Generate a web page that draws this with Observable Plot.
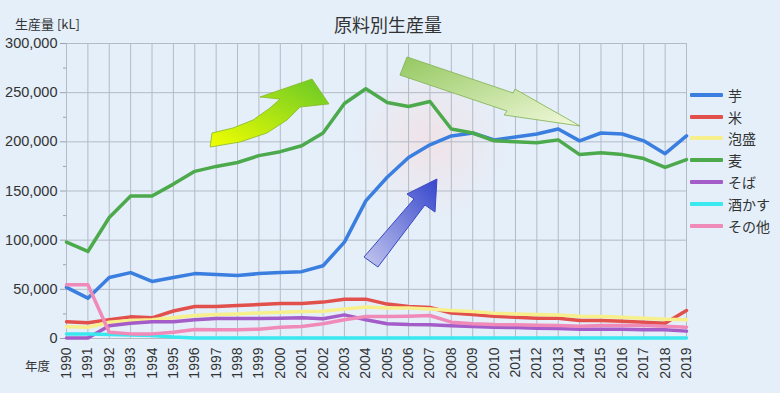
<!DOCTYPE html>
<html><head><meta charset="utf-8">
<script src="https://cdn.jsdelivr.net/npm/d3@7"></script>
<script src="https://cdn.jsdelivr.net/npm/@observablehq/plot@0.6"></script>
<style>
html,body{margin:0;padding:0;background:#e4effa;}
#wrap{position:relative;width:780px;height:393px;background:#e4effa;font-family:"Liberation Sans","Noto Sans CJK JP",sans-serif;color:#333;overflow:hidden}
#chart{position:absolute;left:0;top:0;}
#title{position:absolute;left:0;width:776px;top:11px;text-align:center;font-size:18px;font-family:"Noto Sans CJK JP",sans-serif;color:#333;}
#ylab{position:absolute;left:15px;top:14px;font-size:13px;font-family:"Noto Sans CJK JP",sans-serif;color:#333;}
#xlab{position:absolute;left:25px;top:356px;font-size:12.5px;font-family:"Noto Sans CJK JP",sans-serif;color:#333;}
#legend{position:absolute;left:690px;top:84px;}
.item{display:flex;align-items:center;height:21.8px;font-size:14px;font-family:"Noto Sans CJK JP",sans-serif;color:#333;}
.sw{width:33px;height:4px;margin-right:5px;border-radius:1px;}
</style>
</head><body>
<div id="wrap">
  <div id="chart"></div>
  <div id="title">原料別生産量</div>
  <div id="ylab">生産量 [kL]</div>
  <div id="xlab">年度</div>
  <div id="legend"></div>
</div>
<script>
// ---- data (kL, thousands) ----
const years = [1990,1991,1992,1993,1994,1995,1996,1997,1998,1999,2000,2001,2002,2003,2004,2005,2006,2007,2008,2009,2010,2011,2012,2013,2014,2015,2016,2017,2018,2019];
const names = ["芋","米","泡盛","麦","そば","酒かす","その他"];
const colors = ["#3a7ee0","#e2504c","#f7ef8c","#4caa4c","#a45cc8","#3ae8f0","#f08ab8"];
const imo      = [52,41,62,67,58,62,66,65,64,66,67,68,74,98,140,164,184,197,206,209,202,205,208,213,201,209,208,201,188,206];
const kome     = [17,16,19,22,21,28,32.5,32.5,33.5,34.5,35.5,35.5,37,40,40,35,32.5,31.5,26,24.5,22.5,21.7,20.7,20.7,18.3,18.3,17.6,16.6,15.6,28.5];
const awamori  = [12,11.5,16.6,18.3,19,21,23.4,24.4,25,26,26.8,27.5,27.8,30,32,31,30.9,30,28.5,27.5,25.8,25,24.4,24,22.7,22.4,21.7,20.7,19.7,19];
const mugi     = [98,88.5,123,145,145,157,170,175,179,186,190,196,209,239,254,240,236,241,213,209,201,200,199,202,187,189,187,183,174,182];
const soba     = [0.5,0.5,13,15.6,17,17,19,20.3,20.3,20.3,20.7,21,20,24,19,15,14.2,13.9,12.9,12.2,11.5,11.2,10.5,10.2,9.5,9.5,9.5,9,8.8,7.5];
const sakekasu = [4.5,4.5,4,3.5,3,1.5,0.5,0.5,0.5,0.5,0.5,0.5,0.5,0.5,0.5,0.5,0.5,0.5,0.5,0.5,0.5,0.5,0.5,0.5,0.5,0.5,0.5,0.5,0.5,0.5];
const sonota   = [54.6,54.6,6.4,4.7,4.7,6.4,9.2,9,9,9.5,11.5,12.2,15,19,22.4,22.4,22.7,23.4,16.6,15,14.2,13.9,13.6,13.2,12.5,13.2,13.2,13.2,12.5,11.5];
const yTicks = [0,50000,100000,150000,200000,250000,300000];
const yMinor = [25000,75000,125000,175000,225000,275000];

// decorative arrows, in data coordinates [year, kL]
const arrowRise = [[1996.83,208500],[1997.81,213600],[1998.75,221700],[1999.54,233900],[2000.01,243000],[1999.07,245100],[2001.51,263400],[2002.30,238000],[2000.95,234900],[2000.34,221700],[1999.40,208500],[1998.14,199300],[1996.74,194200]];
const arrowFall = [[2005.95,285800],[2010.91,249200],[2011.00,253200],[2014.04,215600],[2010.49,226800],[2010.63,230800],[2005.62,267400]];
const arrowImo  = [[2003.94,82400],[2006.28,141400],[2005.95,146400],[2007.35,161700],[2007.26,128100],[2006.79,135300],[2004.59,72200]];
const glow = {year: 2007, value: 200000, span: 3.8};

const series = [imo,kome,awamori,mugi,soba,sakekasu,sonota];
const table = [];
series.forEach((vals, k) => vals.forEach((v, i) => table.push({year: years[i], value: v * 1000, name: names[k]})));

function decoMark(layer) {
  return (index, scales, values, dims) => {
    const {x, y} = scales;
    const g = d3.create("svg:g");
    const defs = g.append("defs");
    if (layer === "glow") {
      const rg = defs.append("radialGradient").attr("id", "glowg");
      rg.append("stop").attr("offset", "0%").attr("stop-color", "#ffd4d0").attr("stop-opacity", 0.45);
      rg.append("stop").attr("offset", "100%").attr("stop-color", "#ffd4d0").attr("stop-opacity", 0);
      const r = x(glow.year + glow.span) - x(glow.year);
      g.append("circle").attr("cx", x(glow.year)).attr("cy", y(glow.value)).attr("r", r).attr("fill", "url(#glowg)");
      return g.node();
    }
    const mk = (id, x1, y1, x2, y2, c1, c2) => {
      const lg = defs.append("linearGradient").attr("id", id).attr("x1", x1).attr("y1", y1).attr("x2", x2).attr("y2", y2);
      lg.append("stop").attr("offset", "0%").attr("stop-color", c1);
      lg.append("stop").attr("offset", "100%").attr("stop-color", c2);
    };
    mk("gRise", 0, 1, 1, 0, "#f2ff00", "#66c828");
    mk("gFall", 0, 0, 1, 1, "#94c860", "#f2f9dc");
    mk("gImo", 1, 0, 0, 1, "#3646cc", "#c4c8ee");
    const poly = pts => pts.map(p => [x(p[0]), y(p[1])].join(",")).join(" ");
    g.append("polygon").attr("points", poly(arrowRise)).attr("fill", "url(#gRise)").attr("stroke", "#86b828").attr("stroke-width", 0.8);
    g.append("polygon").attr("points", poly(arrowFall)).attr("fill", "url(#gFall)").attr("stroke", "#7fb04c").attr("stroke-width", 0.8);
    g.append("polygon").attr("points", poly(arrowImo)).attr("fill", "url(#gImo)").attr("stroke", "#3a48c4").attr("stroke-width", 1);
    return g.node();
  };
}

const gridColor = "#b3bbc5";
const chart = Plot.plot({
  width: 780, height: 393,
  marginLeft: 66, marginRight: 94, marginTop: 43, marginBottom: 55,
  style: {background: "transparent", fontFamily: "'Liberation Sans','Noto Sans CJK JP',sans-serif", fontSize: "14.5px", color: "#333", overflow: "visible"},
  x: {domain: [1990, 2019]},
  y: {domain: [0, 300000]},
  color: {domain: names, range: colors},
  marks: [
    decoMark("glow"),
    Plot.gridX(years, {stroke: gridColor, strokeOpacity: 1}),
    Plot.gridY(yTicks, {stroke: gridColor, strokeOpacity: 1}),
    Plot.frame({stroke: gridColor}),
    Plot.axisY(yMinor, {tickSize: 3, text: null, stroke: "#99a2ad", label: null}),
    Plot.axisY(yTicks, {tickSize: 6, tickPadding: 3, stroke: "#99a2ad", tickFormat: d3.format(","), label: null, fontSize: 14.5}),
    Plot.axisX(years, {tickRotate: -90, tickSize: 0, tickPadding: 9, tickFormat: d => String(d), label: null, fontSize: 14}),
    Plot.line(table, {x: "year", y: "value", z: "name", stroke: "name", strokeWidth: 3.5, strokeLinejoin: "round"}),
    decoMark("arrows")
  ]
});
document.getElementById("chart").appendChild(chart);

const legend = d3.select("#legend");
names.forEach((n, i) => {
  const it = legend.append("div").attr("class", "item");
  it.append("div").attr("class", "sw").style("background", colors[i]);
  it.append("span").text(n);
});
</script>
</body></html>
